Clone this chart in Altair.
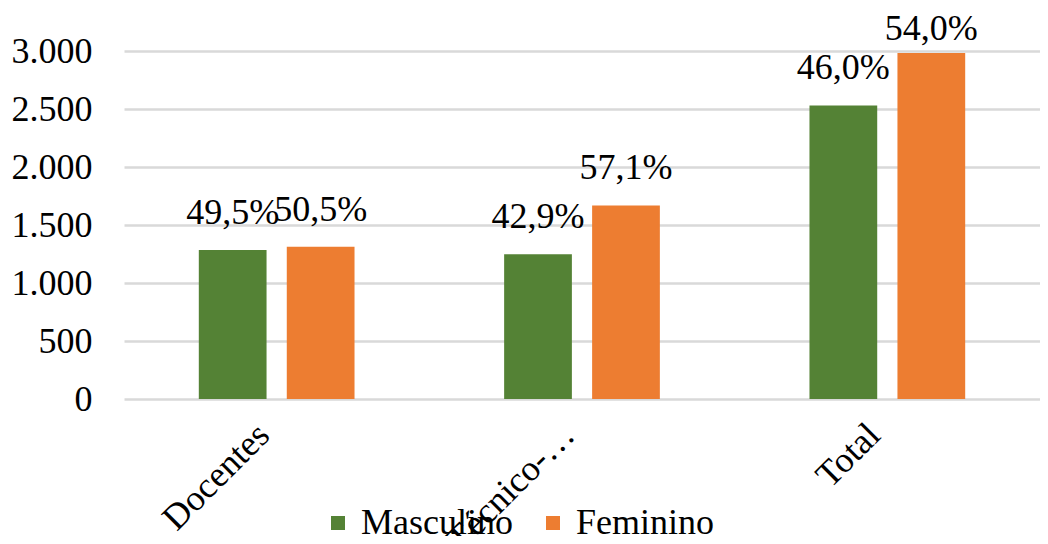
import altair as alt
import pandas as pd

categorias = ["Docentes", "Técnico-…", "Total"]
series = ["Masculino", "Feminino"]
masculino = [1284, 1247, 2531]
feminino = [1313, 1669, 2982]
rotulos_masc = ["49,5%", "42,9%", "46,0%"]
rotulos_fem = ["50,5%", "57,1%", "54,0%"]
cores = ["#548235", "#ED7D31"]
ticks_y = [0, 500, 1000, 1500, 2000, 2500, 3000]

rows = []
for i, c in enumerate(categorias):
    rows.append(dict(cat=c, sexo="Masculino", valor=masculino[i], rotulo=rotulos_masc[i]))
    rows.append(dict(cat=c, sexo="Feminino", valor=feminino[i], rotulo=rotulos_fem[i]))
df = pd.DataFrame(rows)

FONT = "Liberation Serif"
FS = 36

x = alt.X(
    "cat:N", sort=categorias, title=None,
    scale=alt.Scale(paddingInner=0.49, paddingOuter=0.245),
    axis=alt.Axis(labelAngle=-45, labelFontSize=FS, labelFont=FONT, labelColor="black",
                  domain=False, ticks=False, grid=False, labelPadding=18, labelOffset=-25,
                  labelLimit=400),
)
xo = alt.XOffset("sexo:N", sort=series, scale=alt.Scale(paddingInner=0.23, paddingOuter=0))
yscale = alt.Scale(domain=[0, 3000], nice=False)
yaxis = alt.Axis(values=ticks_y, labelExpr="replace(format(datum.value, ','), ',', '.')",
                 labelFontSize=FS, labelFont=FONT, labelColor="black", domain=False,
                 ticks=False, labelPadding=32, gridColor="#d9d9d9", gridWidth=2.5)

bars = alt.Chart(df).mark_bar().encode(
    x=x, xOffset=xo,
    y=alt.Y("valor:Q", title=None, scale=yscale, axis=yaxis),
    color=alt.Color(
        "sexo:N", sort=series,
        scale=alt.Scale(domain=series, range=cores),
        legend=alt.Legend(title=None, orient="none", legendX=196, legendY=454,
                          direction="horizontal", symbolType="square", symbolSize=196,
                          symbolStrokeWidth=0, labelFontSize=FS, labelFont=FONT,
                          labelColor="black", columnPadding=22, labelOffset=5),
    ),
)

# labels are kept inside the chart top, as in the original (clamped anchor)
text = alt.Chart(df).transform_calculate(
    ylab="min(datum.valor, 2870)"
).mark_text(baseline="alphabetic", dy=-26, fontSize=FS, font=FONT, color="black").encode(
    x=x, xOffset=xo,
    y=alt.Y("ylab:Q", title=None, scale=yscale, axis=yaxis),
    text="rotulo:N",
)

chart = alt.layer(bars, text).properties(
    width=916, height=348,
    autosize="none",
    padding={"left": 116, "top": 43, "right": 0, "bottom": 137},
).configure_view(stroke=None)

chart.save("out.html", embed_options={"renderer": "svg", "actions": False})
